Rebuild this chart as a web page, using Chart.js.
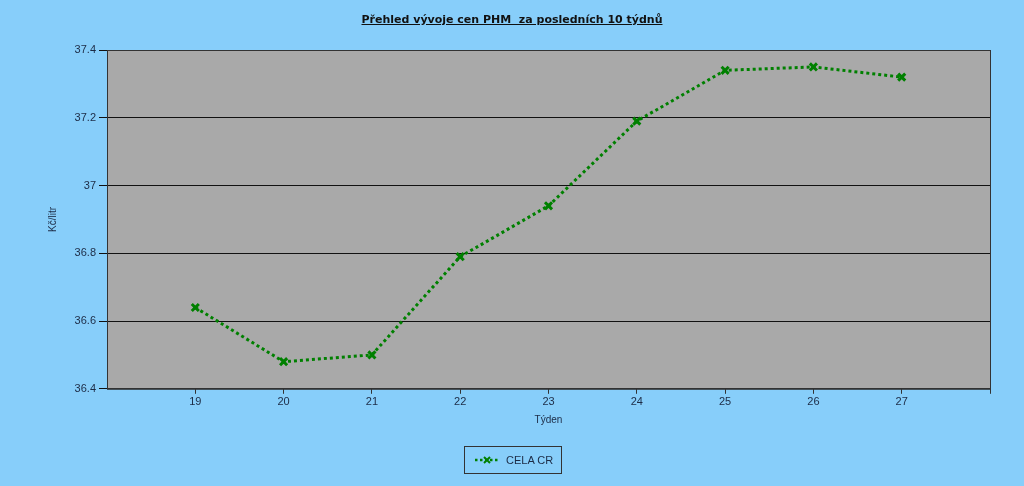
<!DOCTYPE html>
<html>
<head>
<meta charset="utf-8">
<script src="https://cdn.jsdelivr.net/npm/chart.js@4"></script>
<style>
  html, body { margin: 0; padding: 0; background: #87cefa; }
  #wrap { position: relative; width: 1024px; height: 486px; }
  #titulek {
    position: absolute; left: 0; top: 13px; width: 1024px; text-align: center;
    font: bold 11px "DejaVu Sans", Verdana, sans-serif; color: #111;
    text-decoration: underline;
  }
  #legenda {
    position: absolute; left: 464px; top: 446px; width: 98px; height: 28px;
    border: 1px solid #333; box-sizing: border-box;
    font: 11px "Liberation Sans", Arial, sans-serif; color: #1c2b45;
    display: flex; align-items: center; padding-left: 9px;
  }
  #legenda svg { margin-right: 6px; }
</style>
</head>
<body>
<div id="wrap">
  <canvas id="graf" width="1024" height="486"></canvas>
  <div id="titulek">Přehled vývoje cen PHM&nbsp; za posledních 10 týdnů</div>
  <div id="legenda">
    <svg width="26" height="10">
      <line x1="1" y1="5" x2="25" y2="5" stroke="#008000" stroke-width="2.5" stroke-dasharray="2.5,2.5"/>
      <path d="M10 2 L16 8 M16 2 L10 8" stroke="#008000" stroke-width="2"/>
    </svg>
    <span>CELA CR</span>
  </div>
</div>
<script>
// data z grafu
const tydny = [19, 20, 21, 22, 23, 24, 25, 26, 27];
const ceny = [36.64, 36.48, 36.50, 36.79, 36.94, 37.19, 37.34, 37.35, 37.32];
const nazevRady = "CELA CR";

// šedé pozadí plochy grafu a rámeček
const plochaGrafu = {
    id: "plochaGrafu",
    beforeDraw(chart) {
        const { ctx, chartArea: a } = chart;
        ctx.save();
        ctx.fillStyle = "#a9a9a9";
        ctx.fillRect(a.left, a.top, a.right - a.left, a.bottom - a.top);
        ctx.restore();
    },
    afterDraw(chart) {
        const { ctx, chartArea: a } = chart;
        ctx.save();
        ctx.strokeStyle = "#333";
        ctx.lineWidth = 1;
        ctx.strokeRect(a.left + 0.5, a.top + 0.5, a.right - a.left, a.bottom - a.top);
        ctx.restore();
    }
};

const ctx = document.getElementById("graf").getContext("2d");
new Chart(ctx, {
    type: "line",
    data: {
        datasets: [{
            label: nazevRady,
            data: tydny.map((t, i) => ({ x: t, y: ceny[i] })),
            borderColor: "#008000",
            borderWidth: 3,
            borderDash: [3, 3],
            fill: false,
            tension: 0,
            pointStyle: "crossRot",
            pointRadius: 5,
            pointBorderWidth: 3,
            pointBorderColor: "#008000",
            pointBackgroundColor: "#008000"
        }]
    },
    options: {
        responsive: false,
        animation: false,
        layout: { padding: { top: 50, right: 34, left: 44, bottom: 60 } },
        plugins: {
            legend: { display: false },
            tooltip: { enabled: false }
        },
        scales: {
            x: {
                type: "linear",
                min: 18,
                max: 28,
                ticks: {
                    stepSize: 1,
                    color: "#1c2b45",
                    font: { family: "Liberation Sans", size: 11 },
                    padding: 2,
                    callback: v => (v === 18 || v === 28) ? "" : v
                },
                grid: {
                    display: true,
                    drawOnChartArea: false,
                    color: c => c.tick && c.tick.value === 18 ? "rgba(0,0,0,0)" : "#333",
                    tickLength: 5
                },
                border: { color: "#333" },
                title: {
                    display: true,
                    text: "Týden",
                    color: "#1c2b45",
                    font: { family: "Liberation Sans", size: 10 },
                    padding: { top: 3, bottom: 0 }
                }
            },
            y: {
                min: 36.4,
                max: 37.4,
                ticks: {
                    stepSize: 0.2,
                    color: "#1c2b45",
                    font: { family: "Liberation Sans", size: 11 },
                    padding: 3,
                    callback: v => Math.round(v * 10) / 10
                },
                grid: { color: "#111", tickLength: 8 },
                border: { color: "#333" },
                title: {
                    display: true,
                    text: "Kč/litr",
                    color: "#1c2b45",
                    font: { family: "Liberation Sans", size: 10 },
                    padding: { top: 3, bottom: 15 }
                },
                afterFit: s => { s.width = 63; }
            }
        }
    },
    plugins: [plochaGrafu]
});
</script>
</body>
</html>
